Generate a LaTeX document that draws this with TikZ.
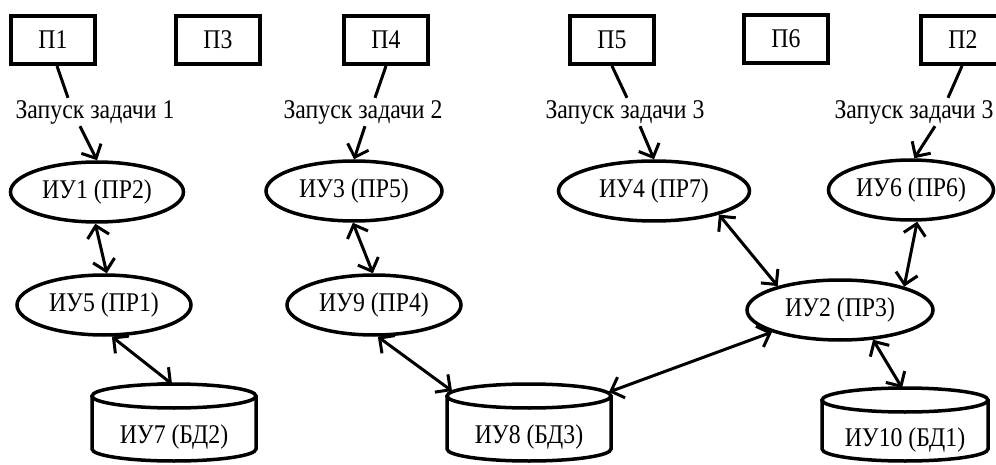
\documentclass[tikz,border=0pt]{standalone}
\usepackage{fontspec}
\setmainfont{Liberation Serif}[FakeStretch=0.88]
\usetikzlibrary{arrows.meta,shapes.geometric}
\begin{document}
\begin{tikzpicture}[x=1pt,y=-1pt,
  font=\fontsize{27}{30}\selectfont,
  tip/.tip={Straight Barb[length=11pt,width=22pt,line width=3pt]},
  proc/.style={draw, line width=4pt, minimum width=84pt, minimum height=48pt, inner sep=0pt},
  unit/.style={draw, ellipse, line width=3.5pt, inner sep=0pt, minimum height=60pt},
  launch/.style={inner sep=0pt, minimum height=28pt},
  vessel/.style={line width=3.5pt},
  link/.style={line width=3pt},
  dual/.style={link, tip-tip},
  one/.style={link, -tip}
]
\useasboundingbox (0,0) rectangle (996,465);
\clip (0,0) rectangle (996,465);

% processes
\node[proc] (p1) at (53,40)  {П1};
\node[proc] (p3) at (218,40) {П3};
\node[proc] (p4) at (386,40) {П4};
\node[proc] (p5) at (612,40) {П5};
\node[proc] (p6) at (786,39) {П6};
\node[proc] (p2) at (963,40) {П2};

% task launch labels
\node[launch] (l1) at (95,112)  {Запуск задачи 1};
\node[launch] (l2) at (363,112) {Запуск задачи 2};
\node[launch] (l3) at (625,112) {Запуск задачи 3};
\node[launch] (l4) at (914,112) {Запуск задачи 3};

% processing units
\node[unit, minimum width=173pt] (iu1) at (97,192)  {ИУ1 (ПР2)};
\node[unit, minimum width=174pt] (iu5) at (104,305) {ИУ5 (ПР1)};
\node[unit, minimum width=176pt] (iu3) at (354,191) {ИУ3 (ПР5)};
\node[unit, minimum width=174pt] (iu9) at (374,305) {ИУ9 (ПР4)};
\node[unit, minimum width=191pt] (iu4) at (654,191) {ИУ4 (ПР7)};
\node[unit, minimum width=165pt] (iu6) at (911,190) {ИУ6 (ПР6)};
\node[unit, minimum width=186pt] (iu2) at (840,310) {ИУ2 (ПР3)};

% databases
\draw[vessel] (174,396) ellipse [x radius=82pt, y radius=12pt];
\draw[vessel] (92,396) -- (92,449) arc[start angle=180, end angle=360, x radius=82pt, y radius=12pt] -- (256,396);
\node (iu7) at (174,437) {ИУ7 (БД2)};
\coordinate (c7) at (172,384);

\draw[vessel] (529,396) ellipse [x radius=82pt, y radius=12pt];
\draw[vessel] (447,396) -- (447,449) arc[start angle=180, end angle=360, x radius=82pt, y radius=12pt] -- (611,396);
\node (iu8) at (529,437) {ИУ8 (БД3)};
\coordinate (c8a) at (452,391);
\coordinate (c8b) at (609,392);

\draw[vessel] (905,400) ellipse [x radius=83pt, y radius=12pt];
\draw[vessel] (822,400) -- (822,449) arc[start angle=180, end angle=360, x radius=83pt, y radius=12pt] -- (988,400);
\node (iu10) at (905,440) {ИУ10 (БД1)};
\coordinate (c10) at (902,388);

% launches
\draw[link] ([xshift=4pt]p1.south) -- ([xshift=-27pt]l1.north);
\draw[one] ([xshift=-15pt]l1.south) -- (iu1.north);
\draw[link] (p4.south) -- ([xshift=12pt]l2.north);
\draw[one] ([xshift=2pt]l2.south) -- (iu3.north);
\draw[link] (p5.south) -- ([xshift=2pt]l3.north);
\draw[one] ([xshift=15pt]l3.south) -- (iu4.north);
\draw[link] ([xshift=-1pt]p2.south) -- ([xshift=34pt]l4.north);
\draw[one] ([xshift=21pt]l4.south) -- (iu6.84);

% exchanges
\draw[dual] (iu1.-93) -- (iu5.85);
\draw[dual] (iu5.-76) -- (c7);
\draw[dual] (iu3.-92) -- (iu9.92);
\draw[dual] (iu9.-83) -- (c8a);
\draw[dual] (iu2.-162) -- (c8b);
\draw[dual] (iu4.-20) -- (iu2.159);
\draw[dual] (iu6.-79) -- (iu2.20);
\draw[dual] (iu2.-42) -- (c10);
\end{tikzpicture}
\end{document}
